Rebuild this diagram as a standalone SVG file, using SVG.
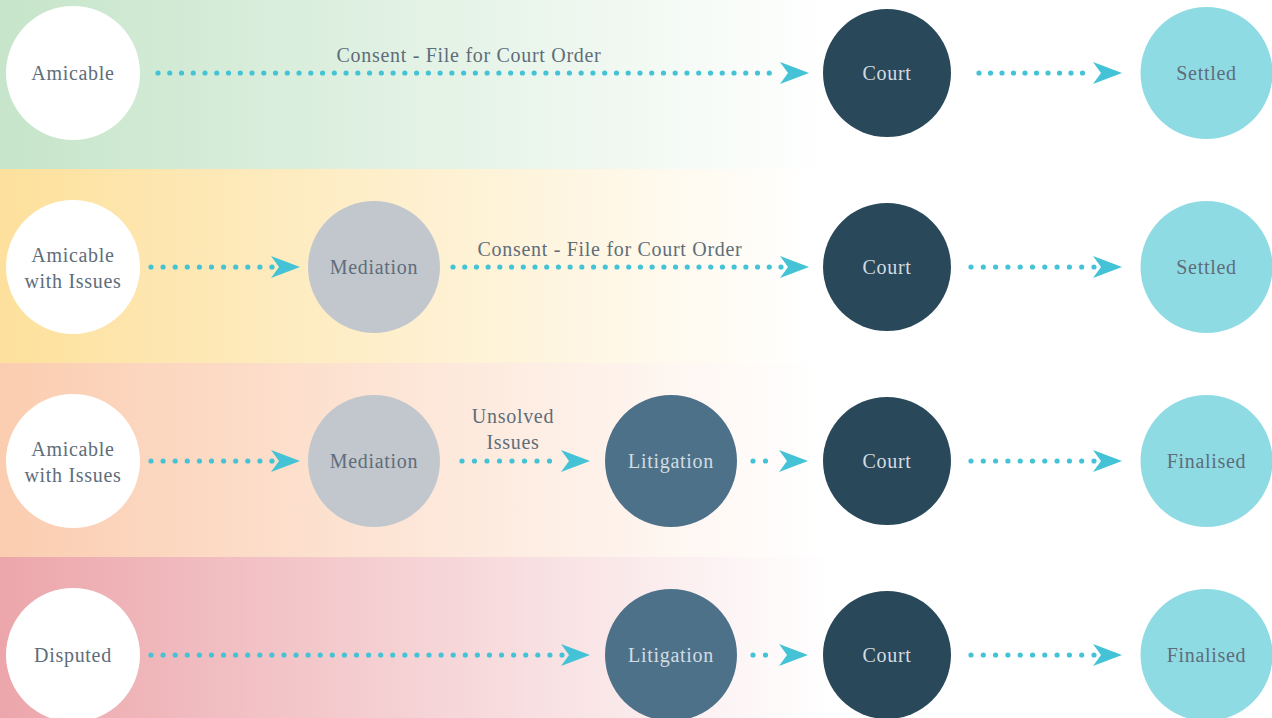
<svg xmlns="http://www.w3.org/2000/svg" width="1272" height="718" viewBox="0 0 1272 718">
<defs>
<linearGradient id="gGreen" gradientUnits="userSpaceOnUse" x1="0" y1="0" x2="830" y2="0"><stop offset="0" stop-color="#c6e5ca"/><stop offset="1" stop-color="#ffffff"/></linearGradient>
<linearGradient id="gYellow" gradientUnits="userSpaceOnUse" x1="0" y1="0" x2="810" y2="0"><stop offset="0" stop-color="#fde09c"/><stop offset="1" stop-color="#ffffff"/></linearGradient>
<linearGradient id="gPeach" gradientUnits="userSpaceOnUse" x1="0" y1="0" x2="820" y2="0"><stop offset="0" stop-color="#fbcdb0"/><stop offset="1" stop-color="#ffffff"/></linearGradient>
<linearGradient id="gPink" gradientUnits="userSpaceOnUse" x1="0" y1="0" x2="830" y2="0"><stop offset="0" stop-color="#eca6ab"/><stop offset="1" stop-color="#ffffff"/></linearGradient>
<path id="ah" d="M-29,-11 L0,0 L-29,11 L-21,0 Z" fill="#43c3d5"/>
</defs>
<style>
.dots{stroke:#43c3d5;stroke-width:5.2;stroke-linecap:round;fill:none}
.t{font-family:"Liberation Serif",serif;font-size:20px;text-anchor:middle;letter-spacing:0.7px}
.tg{fill:#5e6d7a}
.tl{fill:#d3dce2}
.white{fill:#ffffff}
.med{fill:#c2c7ce}
.lit{fill:#4d7189}
.court{fill:#29485a}
.end{fill:#8fdbe4}
</style>
<g id="bands">
<rect x="0" y="0" width="1272" height="169" fill="url(#gGreen)"/>
<rect x="0" y="169" width="1272" height="194" fill="url(#gYellow)"/>
<rect x="0" y="363" width="1272" height="194" fill="url(#gPeach)"/>
<rect x="0" y="557" width="1272" height="161" fill="url(#gPink)"/>
</g>
<g id="connectors">
<line class="dots" x1="158" y1="73" x2="781" y2="73" stroke-dasharray="0 11.755"/>
<use href="#ah" x="809" y="73"/>
<line class="dots" x1="979" y1="73" x2="1094" y2="73" stroke-dasharray="0 11.5"/>
<use href="#ah" x="1122" y="73"/>

<line class="dots" x1="151" y1="267" x2="272" y2="267" stroke-dasharray="0 12.1"/>
<use href="#ah" x="300" y="267"/>
<line class="dots" x1="453" y1="267" x2="781" y2="267" stroke-dasharray="0 11.714"/>
<use href="#ah" x="809" y="267"/>
<line class="dots" x1="971" y1="267" x2="1094" y2="267" stroke-dasharray="0 12.3"/>
<use href="#ah" x="1122" y="267"/>

<line class="dots" x1="151" y1="461" x2="272" y2="461" stroke-dasharray="0 12.1"/>
<use href="#ah" x="300" y="461"/>
<line class="dots" x1="462" y1="461" x2="562" y2="461" stroke-dasharray="0 12.5"/>
<use href="#ah" x="590" y="461"/>
<line class="dots" x1="753" y1="461" x2="778" y2="461" stroke-dasharray="0 12.5"/>
<use href="#ah" x="808" y="461"/>
<line class="dots" x1="971" y1="461" x2="1094" y2="461" stroke-dasharray="0 12.3"/>
<use href="#ah" x="1122" y="461"/>

<line class="dots" x1="151" y1="655" x2="562" y2="655" stroke-dasharray="0 12.088"/>
<use href="#ah" x="590" y="655"/>
<line class="dots" x1="753" y1="655" x2="778" y2="655" stroke-dasharray="0 12.5"/>
<use href="#ah" x="808" y="655"/>
<line class="dots" x1="971" y1="655" x2="1094" y2="655" stroke-dasharray="0 12.3"/>
<use href="#ah" x="1122" y="655"/>

<text class="t tg" x="469" y="62">Consent - File for Court Order</text>
<text class="t tg" x="610" y="256">Consent - File for Court Order</text>
<text class="t tg" x="513" y="423">Unsolved</text>
<text class="t tg" x="513" y="449">Issues</text>
</g>

<g id="r1-amicable"><circle class="white" cx="73" cy="73" r="67"/><text class="t tg" x="73" y="80">Amicable</text></g>
<g id="r1-court"><circle class="court" cx="887" cy="73" r="64"/><text class="t tl" x="887" y="80">Court</text></g>
<g id="r1-settled"><circle class="end" cx="1206.5" cy="73" r="66"/><text class="t tg" x="1206.5" y="80">Settled</text></g>

<g id="r2-amicable"><circle class="white" cx="73" cy="267" r="67"/><text class="t tg" x="73" y="262">Amicable</text><text class="t tg" x="73" y="288">with Issues</text></g>
<g id="r2-mediation"><circle class="med" cx="374" cy="267" r="66"/><text class="t tg" x="374" y="274">Mediation</text></g>
<g id="r2-court"><circle class="court" cx="887" cy="267" r="64"/><text class="t tl" x="887" y="274">Court</text></g>
<g id="r2-settled"><circle class="end" cx="1206.5" cy="267" r="66"/><text class="t tg" x="1206.5" y="274">Settled</text></g>

<g id="r3-amicable"><circle class="white" cx="73" cy="461" r="67"/><text class="t tg" x="73" y="456">Amicable</text><text class="t tg" x="73" y="482">with Issues</text></g>
<g id="r3-mediation"><circle class="med" cx="374" cy="461" r="66"/><text class="t tg" x="374" y="468">Mediation</text></g>
<g id="r3-litigation"><circle class="lit" cx="671" cy="461" r="66"/><text class="t tl" x="671" y="468">Litigation</text></g>
<g id="r3-court"><circle class="court" cx="887" cy="461" r="64"/><text class="t tl" x="887" y="468">Court</text></g>
<g id="r3-finalised"><circle class="end" cx="1206.5" cy="461" r="66"/><text class="t tg" x="1206.5" y="468">Finalised</text></g>

<g id="r4-disputed"><circle class="white" cx="73" cy="655" r="67"/><text class="t tg" x="73" y="662">Disputed</text></g>
<g id="r4-litigation"><circle class="lit" cx="671" cy="655" r="66"/><text class="t tl" x="671" y="662">Litigation</text></g>
<g id="r4-court"><circle class="court" cx="887" cy="655" r="64"/><text class="t tl" x="887" y="662">Court</text></g>
<g id="r4-finalised"><circle class="end" cx="1206.5" cy="655" r="66"/><text class="t tg" x="1206.5" y="662">Finalised</text></g>
</svg>
